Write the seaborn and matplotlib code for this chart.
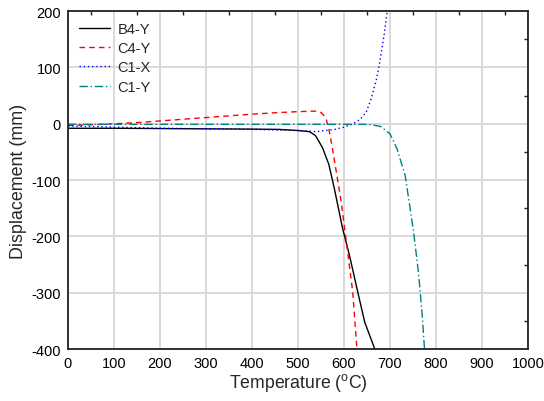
import numpy as np
import pandas as pd
import matplotlib
matplotlib.use("Agg")
import matplotlib.pyplot as plt
from matplotlib.ticker import MultipleLocator
import seaborn as sns

# Displacement histories (temperature in degC, displacement in mm)
b4y_t = [0, 100, 200, 300, 400, 458, 500, 525, 538, 553, 567, 579, 597, 612, 630, 645, 667, 680]
b4y_d = [-8, -8, -8.5, -9, -9.5, -10, -12, -14, -21, -42, -72, -115, -186, -234, -299, -352, -400, -430]

c4y_t = [0, 50, 100, 150, 200, 250, 300, 350, 400, 450, 500, 540, 550, 556, 561, 567, 575, 594, 608, 619, 628, 635]
c4y_d = [-3, -2, 0, 2, 5, 8, 11, 14, 17, 19.5, 21.5, 22.5, 20, 15, 9, -9, -44, -139, -228, -299, -399, -450]

c1x_t = [0, 100, 200, 300, 400, 500, 540, 580, 600, 620, 635, 648, 659, 670, 677, 688, 694, 700]
c1x_d = [-4, -6, -8, -9, -10, -12, -14, -10, -6, 0, 8, 20, 44, 77, 106, 162, 200, 240]

c1y_t = [0, 200, 400, 600, 640, 660, 680, 700, 715, 733, 751, 762, 770, 775, 780]
c1y_d = [-1, -1, -1, -1, -1, -1.5, -5, -18, -44, -92, -190, -265, -340, -400, -450]

series_names = ["B4-Y", "C4-Y", "C1-X", "C1-Y"]

df = pd.concat([
    pd.DataFrame({"Temperature": t, "Displacement": d, "Series": name})
    for name, t, d in zip(series_names,
                          [b4y_t, c4y_t, c1x_t, c1y_t],
                          [b4y_d, c4y_d, c1x_d, c1y_d])
], ignore_index=True)

sns.set_style("white")
plt.rcParams["font.family"] = ["Liberation Sans", "DejaVu Sans"]
plt.rcParams["mathtext.fontset"] = "custom"
plt.rcParams["mathtext.rm"] = "Liberation Sans"
plt.rcParams["axes.unicode_minus"] = False

fig = plt.figure(figsize=(5.44, 4.02), dpi=100)
ax = fig.add_axes([0.125, 0.129, 0.8456, 0.841])

palette = {"B4-Y": "black", "C4-Y": "#ff0000", "C1-X": "#0000ff", "C1-Y": "#008080"}
styles = {"B4-Y": "-", "C4-Y": (0, (4, 3)), "C1-X": (0, (1, 2)), "C1-Y": (0, (6, 2, 1, 2))}

for name in series_names:
    sub = df[df["Series"] == name]
    sns.lineplot(data=sub, x="Temperature", y="Displacement", ax=ax,
                 color=palette[name], linestyle=styles[name], linewidth=1.0,
                 label=name, sort=False, estimator=None)

ax.set_xlim(0, 1000)
ax.set_ylim(-400, 200)
ax.xaxis.set_major_locator(MultipleLocator(100))
ax.xaxis.set_minor_locator(MultipleLocator(50))
ax.yaxis.set_major_locator(MultipleLocator(100))
ax.yaxis.set_minor_locator(MultipleLocator(50))

ax.grid(True, which="major", color="#d9d9d9", linewidth=1.4)
ax.set_axisbelow(True)

for s in ax.spines.values():
    s.set_color("#222222")
    s.set_linewidth(1.3)

ax.tick_params(which="major", direction="out", length=3, width=1.0,
               labelsize=10.5, colors="#222222", pad=2)
ax.tick_params(which="minor", direction="in", length=3, width=1.0,
               top=True, right=True, colors="#222222")
ax.tick_params(axis="both", which="major", labelcolor="black")

ax.set_xlabel("Temperature ($^{\\rm o}$C)", fontsize=12.7, labelpad=1)
ax.set_ylabel("Displacement (mm)", fontsize=12.9, labelpad=3)

leg = ax.legend(loc="upper left", frameon=False, fontsize=10.5,
                handlelength=2.1, handletextpad=0.55, labelspacing=0.36,
                borderaxespad=0.35)

fig.savefig("out.png", dpi=100)
